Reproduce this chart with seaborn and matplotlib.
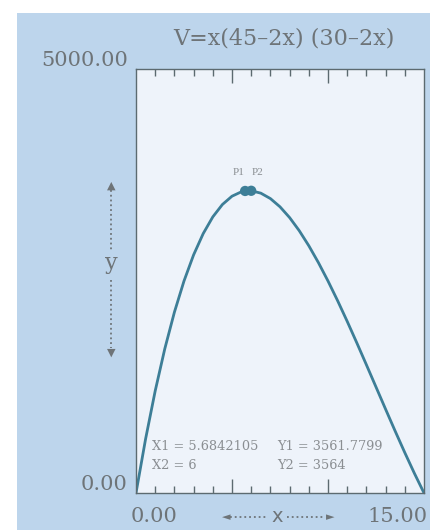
import matplotlib
matplotlib.use("Agg")
import matplotlib.pyplot as plt
import seaborn as sns
import pandas as pd
from matplotlib.patches import Rectangle

# Data
x_vals = [0, 0.5, 1, 1.5, 2, 2.5, 3, 3.5, 4, 4.5, 5, 5.5, 6, 6.5, 7, 7.5,
          8, 8.5, 9, 9.5, 10, 10.5, 11, 11.5, 12, 12.5, 13, 13.5, 14, 14.5, 15]
v_vals = [0, 638, 1204, 1701, 2132, 2500, 2808, 3059, 3256, 3402, 3500, 3553,
          3564, 3536, 3472, 3375, 3248, 3094, 2916, 2717, 2500, 2268, 2024,
          1771, 1512, 1250, 988, 729, 476, 232, 0]
point_x = [5.6842105, 6]
point_y = [3561.7799, 3564]
point_labels = ["P1", "P2"]
title = "V=x(45\u20132x) (30\u20132x)"
xlim = [0, 15]
ylim = [0, 5000]

sns.set_theme(style="white")
plt.rcParams['font.family'] = ['DejaVu Serif', 'DejaVu Sans']

W, H = 430, 530
fig = plt.figure(figsize=(4.3, 5.3), dpi=100)
fig.patch.set_facecolor("white")
fig.add_artist(Rectangle((17/W, 0), 1, 1 - 13/H, transform=fig.transFigure,
                         facecolor="#bdd5ec", edgecolor="none", zorder=0))

ax = fig.add_axes([136/W, 1 - 493/H, 288/W, 424/H])
ax.set_facecolor("#eef3fa")

curve_color = "#3d7e97"
df = pd.DataFrame({"x": x_vals, "V": v_vals})
sns.lineplot(data=df, x="x", y="V", ax=ax, color=curve_color, lw=2.0)
sns.scatterplot(x=point_x, y=point_y, ax=ax, color=curve_color, s=55,
                edgecolor="none", zorder=5)
light = "#8a8e92"
ax.text(point_x[0] - 0.05, point_y[0] + 160, point_labels[0], ha="right", va="bottom",
        fontsize=8, color=light, family=["Liberation Serif"])
ax.text(point_x[1] + 0.05, point_y[1] + 160, point_labels[1], ha="left", va="bottom",
        fontsize=8, color=light, family=["Liberation Serif"])

ax.set_xlim(xlim)
ax.set_ylim(ylim)
ax.set_xlabel("")
ax.set_ylabel("")
for s in ax.spines.values():
    s.set_color("#5c6a70")
    s.set_linewidth(1.0)

ax.set_xticks([5, 10])
ax.set_xticks([1, 2, 3, 4, 6, 7, 8, 9, 11, 12, 13, 14], minor=True)
ax.tick_params(axis="x", which="both", direction="in", top=True, bottom=True,
               labelbottom=False, color="#5c6a70", width=1.0)
ax.tick_params(axis="x", which="major", length=10)
ax.tick_params(axis="x", which="minor", length=5)
ax.set_yticks([])

gray = "#6e7478"
fig.text(284/W, 1 - 39/H, title, ha="center", va="center", fontsize=16, color=gray)
fig.text(128/W, 1 - 60/H, "5000.00", ha="right", va="center", fontsize=15, color=gray)
fig.text(127/W, 1 - 485/H, "0.00", ha="right", va="center", fontsize=15, color=gray)
fig.text(154/W, 1 - 517/H, "0.00", ha="center", va="center", fontsize=15, color=gray)
fig.text(428/W, 1 - 517/H, "15.00", ha="right", va="center", fontsize=15, color=gray)

# x axis label with dotted arrows
xy_ = 1 - 517/H
fig.text(277/W, xy_, "x", ha="center", va="center", fontsize=14,
         color=gray, family=["DejaVu Sans"])
fig.add_artist(plt.Line2D([230/W, 268/W], [xy_] * 2, ls=":", color=gray, lw=1.3))
fig.add_artist(plt.Line2D([287/W, 325/W], [xy_] * 2, ls=":", color=gray, lw=1.3))
fig.text(226/W, xy_, "\u25c4", ha="center", va="center", fontsize=8,
         color=gray, family=["DejaVu Sans"])
fig.text(330/W, xy_, "\u25ba", ha="center", va="center", fontsize=8,
         color=gray, family=["DejaVu Sans"])

# y axis label with dotted arrows
yx = 111/W
fig.text(yx, 1 - 263/H, "y", ha="center", va="center", fontsize=16, color=gray)
fig.add_artist(plt.Line2D([yx, yx], [1 - 190/H, 1 - 250/H], ls=":", color=gray, lw=1.3))
fig.add_artist(plt.Line2D([yx, yx], [1 - 280/H, 1 - 348/H], ls=":", color=gray, lw=1.3))
fig.text(yx, 1 - 186/H, "\u25b2", ha="center", va="center", fontsize=8,
         color=gray, family=["DejaVu Sans"])
fig.text(yx, 1 - 353/H, "\u25bc", ha="center", va="center", fontsize=8,
         color=gray, family=["DejaVu Sans"])

# readout text
ax.text(0.85, 554, "X1 = 5.6842105", fontsize=9.3, color=light, va="center")
ax.text(0.85, 330, "X2 = 6", fontsize=9.3, color=light, va="center")
ax.text(7.35, 554, "Y1 = 3561.7799", fontsize=9.3, color=light, va="center")
ax.text(7.35, 330, "Y2 = 3564", fontsize=9.3, color=light, va="center")

fig.savefig("out.png", dpi=100)
